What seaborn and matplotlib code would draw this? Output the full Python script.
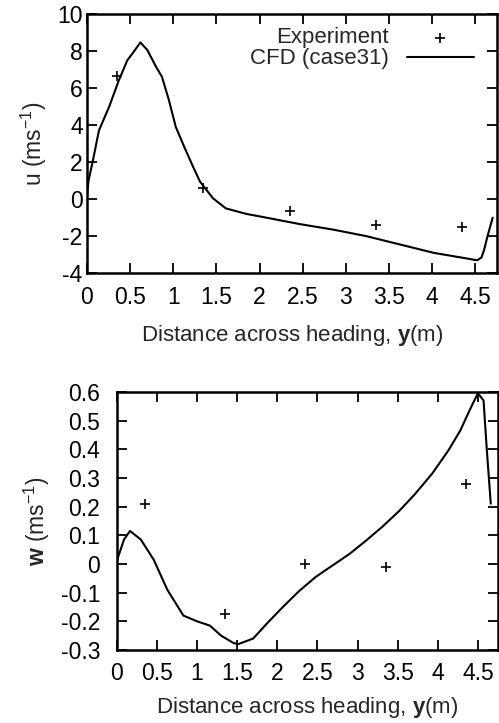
import matplotlib
matplotlib.use("Agg")
import matplotlib.pyplot as plt
import numpy as np
import pandas as pd
import seaborn as sns

# experiment points (same y stations for both components)
exp_y = [0.35, 1.35, 2.35, 3.35, 4.35]
exp_u = [6.65, 0.6, -0.65, -1.4, -1.5]
exp_w = [0.21, -0.175, 0.0, -0.01, 0.28]

# CFD (case31) profiles
cfd_u_y = [0.0, 0.02, 0.08, 0.14, 0.26, 0.37, 0.47, 0.52, 0.62, 0.70, 0.80,
           0.87, 0.95, 1.03, 1.13, 1.23, 1.31, 1.46, 1.61, 1.85, 2.08, 2.47,
           2.86, 3.24, 3.63, 4.02, 4.40, 4.52, 4.57, 4.60, 4.64, 4.70]
cfd_u = [0.1, 1.0, 2.3, 3.7, 5.0, 6.4, 7.5, 7.8, 8.45, 8.05, 7.15,
         6.6, 5.35, 3.9, 2.8, 1.75, 0.95, 0.05, -0.5, -0.8, -1.0, -1.35,
         -1.65, -2.0, -2.45, -2.9, -3.2, -3.3, -3.15, -2.75, -2.0, -1.0]

cfd_w_y = [0.0, 0.09, 0.165, 0.30, 0.46, 0.63, 0.83, 1.00, 1.16, 1.30, 1.45,
           1.51, 1.70, 1.88, 2.07, 2.27, 2.48, 2.69, 2.90, 3.10, 3.31, 3.52,
           3.72, 3.93, 4.13, 4.28, 4.42, 4.50, 4.57, 4.61, 4.66]
cfd_w = [0.01, 0.085, 0.115, 0.085, 0.015, -0.09, -0.18, -0.20, -0.215, -0.25,
         -0.275, -0.28, -0.26, -0.205, -0.15, -0.095, -0.045, -0.005, 0.035,
         0.08, 0.13, 0.185, 0.245, 0.315, 0.395, 0.465, 0.55, 0.595, 0.57,
         0.40, 0.21]

u_ticks = [-4, -2, 0, 2, 4, 6, 8, 10]
w_ticks = [-0.3, -0.2, -0.1, 0, 0.1, 0.2, 0.3, 0.4, 0.5, 0.6]
x_ticks = [0, 0.5, 1, 1.5, 2, 2.5, 3, 3.5, 4, 4.5]

sns.set_style("ticks")
plt.rcParams["font.family"] = ["Liberation Sans", "DejaVu Sans"]
plt.rcParams["mathtext.fontset"] = "custom"
plt.rcParams["mathtext.rm"] = "Liberation Sans"
plt.rcParams["mathtext.bf"] = "Liberation Sans:bold"

fig = plt.figure(figsize=(4.99, 7.23), dpi=100)
ax1 = fig.add_axes([0.174, 0.622, 0.822, 0.359])
ax2 = fig.add_axes([0.234, 0.101, 0.764, 0.357])

xlabel = r"Distance across heading, $\mathbf{y}$(m)"


def style(ax, yticks, ylims, ylabel, labels, ypad, xlpad):
    ax.set_xlim(0, 4.75)
    ax.set_ylim(*ylims)
    ax.set_xticks(x_ticks)
    ax.set_xticklabels([f"{t:g}" for t in x_ticks])
    ax.set_yticks(yticks)
    ax.set_yticklabels(labels)
    ax.tick_params(direction="in", length=7, width=1.3, top=True, right=True,
                   labelsize=16.5, colors="black")
    ax.tick_params(axis="x", pad=9)
    ax.tick_params(axis="y", pad=ypad)
    for s in ax.spines.values():
        s.set_linewidth(1.8)
        s.set_color("black")
    ax.set_xlabel(xlabel, fontsize=16, labelpad=xlpad)
    ax.set_ylabel(ylabel, fontsize=16.5, labelpad=6)


exp_df = pd.DataFrame({"y": exp_y, "u": exp_u, "w": exp_w})
u_df = pd.DataFrame({"y": cfd_u_y, "u": cfd_u})
w_df = pd.DataFrame({"y": cfd_w_y, "w": cfd_w})

sns.scatterplot(data=exp_df, x="y", y="u", ax=ax1, marker="+", s=60,
                color="black", linewidth=1.2, label="Experiment")
sns.lineplot(data=u_df, x="y", y="u", ax=ax1, color="black", linewidth=1.5,
             sort=False, estimator=None, label="CFD (case31)")
style(ax1, u_ticks, (-4, 10), r"u (ms$^{-1}$)", [str(t) for t in u_ticks], 3, 10)
ax1.legend(loc="upper right", frameon=False, markerfirst=False, fontsize=16,
           handlelength=3.0, handletextpad=0.8, borderaxespad=0.1,
           labelspacing=0.0, bbox_to_anchor=(0.97, 0.99))

sns.scatterplot(data=exp_df, x="y", y="w", ax=ax2, marker="+", s=60,
                color="black", linewidth=1.2, legend=False)
sns.lineplot(data=w_df, x="y", y="w", ax=ax2, color="black", linewidth=1.5,
             sort=False, estimator=None)
style(ax2, w_ticks, (-0.3, 0.6), r"$\mathbf{w}$ (ms$^{-1}$)",
      [f"{t:g}" for t in w_ticks], 12, 7)

fig.savefig("out.png", dpi=100)
